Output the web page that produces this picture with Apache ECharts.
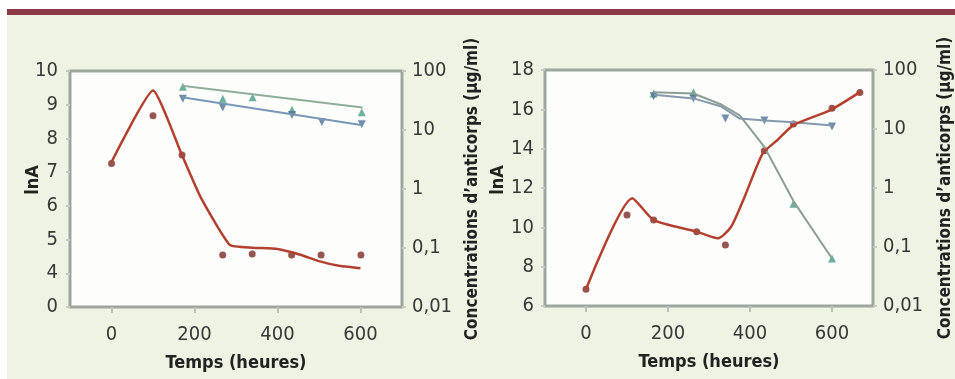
<!DOCTYPE html>
<html><head><meta charset="utf-8">
<script src="https://cdn.jsdelivr.net/npm/echarts@6/dist/echarts.min.js"></script>
<style>html,body{margin:0;padding:0;background:#fff}#c{width:955px;height:379px}</style>
</head><body><div id="c"></div>
<script>
// ---------- tick labels ----------
const timeTicks = [0, 200, 400, 600];
// panel 1 left axis is broken between 0 and 4: the bottom tick (value 3) is labelled "0"
const p1LnATickValues = [3, 4, 5, 6, 7, 8, 9, 10];
const p1LnATickLabels = ['0', '4', '5', '6', '7', '8', '9', '10'];
const p2LnATickValues = [6, 8, 10, 12, 14, 16, 18];
const concTickValues = [0.01, 0.1, 1, 10, 100];
const concTickLabels = ['0,01', '0,1', '1', '10', '100'];

// ---------- panel 1 ----------
const p1RedTime = [0, 100, 170, 268, 339, 434, 505, 601];
const p1RedLnA = [7.26, 8.67, 7.51, 4.54, 4.57, 4.54, 4.54, 4.54];
const p1RedFitTime = [0, 100, 170, 215, 285, 340, 400, 455, 500, 545, 600];
const p1RedFitLnA = [7.3, 9.42, 7.5, 6.25, 4.84, 4.76, 4.72, 4.55, 4.36, 4.23, 4.15];
const p1GreenTime = [172, 268, 340, 435, 603];
const p1GreenConc = [54, 34, 36, 22, 20];
const p1GreenFitTime = [170, 605];
const p1GreenFitConc = [56, 24];
const p1BlueTime = [172, 268, 435, 507, 603];
const p1BlueConc = [34, 24, 18, 13.7, 12.5];
const p1BlueFitTime = [170, 605];
const p1BlueFitConc = [36, 12];

// ---------- panel 2 ----------
const p2RedTime = [0, 100, 165, 270, 340, 435, 506, 600, 668];
const p2RedLnA = [6.85, 10.63, 10.37, 9.78, 9.1, 13.9, 15.25, 16.05, 16.86];
const p2RedFitTime = [0, 113, 165, 270, 322, 354, 387, 431, 467, 506, 596, 670];
const p2RedFitLnA = [6.85, 11.48, 10.37, 9.78, 9.44, 10.03, 11.56, 13.76, 14.44, 15.2, 15.96, 16.9];
const p2GreenTime = [165, 262, 506, 600];
const p2GreenConc = [40, 42, 0.54, 0.064];
const p2GreenFitTime = [165, 262, 330, 375, 435, 506, 600];
const p2GreenFitConc = [42, 40, 26, 17, 5, 0.6, 0.064];
const p2BlueTime = [165, 262, 340, 435, 600];
const p2BlueConc = [36, 33, 15, 14, 11];
const p2BlueFitTime = [165, 262, 330, 375, 435, 506, 600];
const p2BlueFitConc = [38, 33, 24, 15, 14, 13, 11.5];

const zip = (a, b) => a.map((v, i) => [v, b[i]]);

const NARROW = "'DejaVu Sans Condensed','Liberation Sans Narrow','DejaVu Sans',sans-serif";
const tickFont = { fontFamily: NARROW, fontSize: 20, color: '#383838' };
const xTitleFont = { fontFamily: NARROW, fontSize: 18, fontWeight: 'bold', color: '#222' };
const yTitleFont = { fontFamily: NARROW, fontSize: 17, fontWeight: 'bold', color: '#222' };

const RED_LINE = '#b3402f', RED_DOT = '#7c2b26';
const GREEN_LINE = '#8fae98', GREEN_MK = '#4a9c86';
const BLUE_LINE = '#7698b6', BLUE_MK = '#4f7194';
const TICK_STYLE = { color: '#c3cbc3', width: 2 };

function xAxis(gi) {
  return {
    type: 'value', gridIndex: gi, min: -100, max: 700,
    name: 'Temps (heures)', nameLocation: 'middle', nameGap: 47, nameTextStyle: xTitleFont,
    axisLine: { show: false, onZero: false }, splitLine: { show: false },
    axisTick: { show: true, customValues: timeTicks, length: 6, lineStyle: { color: '#b9c2b9', width: 2 } },
    axisLabel: Object.assign({ customValues: timeTicks, margin: 18 }, tickFont)
  };
}
function concAxis(gi, gap) {
  return {
    type: 'log', logBase: 10, gridIndex: gi, position: 'right', min: 0.01, max: 100,
    name: 'Concentrations d\u2019anticorps (µg/ml)', nameLocation: 'middle', nameGap: gap,
    nameRotate: 90, nameTextStyle: yTitleFont,
    axisLine: { show: false, onZero: false }, splitLine: { show: false }, minorTick: { show: false },
    axisTick: { show: true, length: 4, lineStyle: TICK_STYLE },
    axisLabel: Object.assign({
      margin: 10,
      formatter: v => concTickLabels[concTickValues.findIndex(t => Math.abs(Math.log10(t) - Math.log10(v)) < 0.01)] || ''
    }, tickFont)
  };
}
const lnALabelStyle = { text: 'lnA', align: 'center', verticalAlign: 'middle', fill: '#222', font: 'bold 18px ' + NARROW };

const option = {
  backgroundColor: '#ffffff',
  animation: false,
  graphic: [
    { type: 'rect', shape: { x: 7, y: 15, width: 948, height: 364 }, style: { fill: '#eef3e4' }, z: -10 },
    { type: 'rect', shape: { x: 7, y: 9, width: 948, height: 6 }, style: { fill: '#8d3a47' }, z: -10 },
    { type: 'text', x: 33, y: 180, rotation: Math.PI / 2, style: lnALabelStyle },
    { type: 'text', x: 498, y: 180, rotation: Math.PI / 2, style: lnALabelStyle }
  ],
  grid: [
    { left: 70, top: 71, width: 332, height: 236, show: true, backgroundColor: '#fdfefc', borderColor: '#9ea69f', borderWidth: 3 },
    { left: 545, top: 70, width: 333, height: 236, show: true, backgroundColor: '#fdfefc', borderColor: '#9ea69f', borderWidth: 3 }
  ],
  xAxis: [xAxis(0), xAxis(1)],
  yAxis: [
    { type: 'value', gridIndex: 0, min: 3, max: 10, interval: 1,
      axisLine: { show: false, onZero: false }, splitLine: { show: false },
      axisTick: { show: true, length: 4, lineStyle: TICK_STYLE },
      axisLabel: Object.assign({ margin: 12, formatter: v => p1LnATickLabels[p1LnATickValues.indexOf(v)] }, tickFont) },
    concAxis(0, 62),
    { type: 'value', gridIndex: 1, min: 6, max: 18, interval: 2,
      axisLine: { show: false, onZero: false }, splitLine: { show: false },
      axisTick: { show: true, length: 4, lineStyle: TICK_STYLE },
      axisLabel: Object.assign({ margin: 11, formatter: v => p2LnATickValues.indexOf(v) >= 0 ? String(v) : '' }, tickFont) },
    concAxis(1, 64)
  ],
  series: [
    // panel 1
    { type: 'line', xAxisIndex: 0, yAxisIndex: 1, data: zip(p1GreenFitTime, p1GreenFitConc), showSymbol: false, lineStyle: { color: GREEN_LINE, width: 2 } },
    { type: 'line', xAxisIndex: 0, yAxisIndex: 1, data: zip(p1BlueFitTime, p1BlueFitConc), showSymbol: false, lineStyle: { color: BLUE_LINE, width: 2 } },
    { type: 'scatter', xAxisIndex: 0, yAxisIndex: 1, data: zip(p1GreenTime, p1GreenConc), symbol: 'triangle', symbolSize: 8, itemStyle: { color: GREEN_MK } },
    { type: 'scatter', xAxisIndex: 0, yAxisIndex: 1, data: zip(p1BlueTime, p1BlueConc), symbol: 'triangle', symbolRotate: 180, symbolSize: 8, itemStyle: { color: BLUE_MK } },
    { type: 'line', xAxisIndex: 0, yAxisIndex: 0, data: zip(p1RedFitTime, p1RedFitLnA), smooth: 0.15, showSymbol: false, lineStyle: { color: RED_LINE, width: 2.5 } },
    { type: 'scatter', xAxisIndex: 0, yAxisIndex: 0, data: zip(p1RedTime, p1RedLnA), symbol: 'circle', symbolSize: 7, itemStyle: { color: RED_DOT } },
    // panel 2
    { type: 'line', xAxisIndex: 1, yAxisIndex: 3, data: zip(p2GreenFitTime, p2GreenFitConc), showSymbol: false, lineStyle: { color: '#8c9f92', width: 2 } },
    { type: 'line', xAxisIndex: 1, yAxisIndex: 3, data: zip(p2BlueFitTime, p2BlueFitConc), showSymbol: false, lineStyle: { color: '#8599ad', width: 2 } },
    { type: 'scatter', xAxisIndex: 1, yAxisIndex: 3, data: zip(p2GreenTime, p2GreenConc), symbol: 'triangle', symbolSize: 8, itemStyle: { color: GREEN_MK } },
    { type: 'scatter', xAxisIndex: 1, yAxisIndex: 3, data: zip(p2BlueTime, p2BlueConc), symbol: 'triangle', symbolRotate: 180, symbolSize: 8, itemStyle: { color: BLUE_MK } },
    { type: 'line', xAxisIndex: 1, yAxisIndex: 2, data: zip(p2RedFitTime, p2RedFitLnA), smooth: 0.2, showSymbol: false, lineStyle: { color: RED_LINE, width: 2.5 } },
    { type: 'scatter', xAxisIndex: 1, yAxisIndex: 2, data: zip(p2RedTime, p2RedLnA), symbol: 'circle', symbolSize: 7, itemStyle: { color: RED_DOT } }
  ]
};
const chart = echarts.init(document.getElementById('c'), null, { renderer: 'canvas', width: 955, height: 379 });
chart.setOption(option);
</script></body></html>
